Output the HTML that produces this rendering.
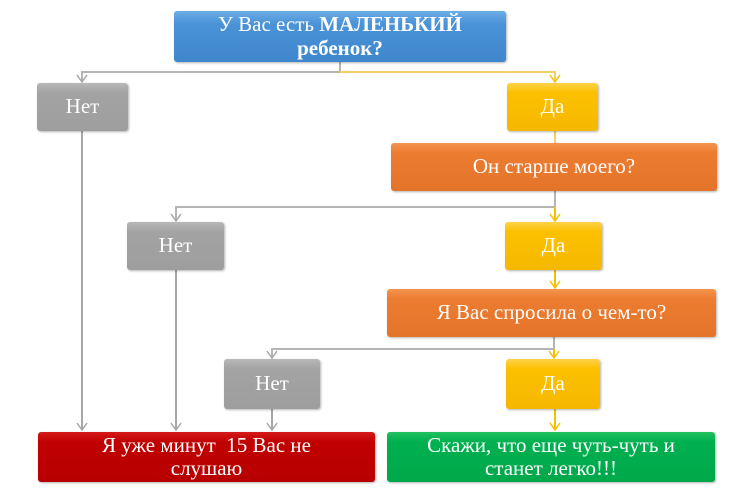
<!DOCTYPE html>
<html><head><meta charset="utf-8"><style>
body{margin:0;width:751px;height:494px;background:#fff;position:relative;overflow:hidden;font-family:"Liberation Serif","DejaVu Serif",serif}
.b{position:absolute;display:flex;align-items:center;justify-content:center;text-align:center;color:#fff;border-radius:3px;box-sizing:border-box;line-height:1.1;font-size:21px;box-shadow:1px 1px 2px rgba(0,0,0,.3)}
.g{background:linear-gradient(#b8b8b8,#a3a3a3 20%,#9e9e9e)}
.y{background:linear-gradient(#ffd24a,#fcc000 20%,#f5b800)}
.o{background:linear-gradient(#f59550,#ec7c30 20%,#e3742a)}
svg{position:absolute;left:0;top:0}
</style></head><body>
<svg width="751" height="494">
<g stroke-width="2" fill="none">
<path d="M340 62V72H82V82" stroke="#b5b5b5"/>
<path d="M340 72H555V82" stroke="#f5d060"/>
<path d="M555 131V143" stroke="#f5d060"/>
<path d="M555 191V207H176V221" stroke="#b5b5b5"/>
<path d="M555 207V221" stroke="#f5c000"/>
<path d="M555 270V288" stroke="#f5c000"/>
<path d="M554 337V349H272V358" stroke="#b5b5b5"/>
<path d="M554 349V358" stroke="#f5c000"/>
<path d="M82 131V430" stroke="#a6a6a6"/>
<path d="M176 270V430" stroke="#a6a6a6"/>
<path d="M272 409V430" stroke="#a6a6a6"/>
<path d="M555 409V430" stroke="#f5c000"/>
</g>
<g fill="none" stroke-width="1.5">
<path d="M77 75L82 82L87 75M171 214L176 221L181 214M267 351L272 358L277 351M77 423L82 430L87 423M171 423L176 430L181 423M267 423L272 430L277 423" stroke="#a6a6a6"/>
<path d="M550 75L555 82L560 75M550 214L555 221L560 214M550 281L555 288L560 281M549 351L554 358L559 351M550 423L555 430L560 423" stroke="#f5c000"/>
</g></svg>
<div class="b" style="left:174px;top:11px;width:332px;height:51px;background:linear-gradient(#6aaee6,#4b93d8 25%,#3f86cc)">
<div>У Вас есть <b>МАЛЕНЬКИЙ</b><br><b>ребенок?</b></div></div>
<div class="b g" style="left:37px;top:83px;width:91px;height:48px">Нет</div>
<div class="b y" style="left:507px;top:83px;width:91px;height:48px">Да</div>
<div class="b o" style="left:391px;top:143px;width:326px;height:48px">Он старше моего?</div>
<div class="b g" style="left:127px;top:222px;width:97px;height:48px">Нет</div>
<div class="b y" style="left:505px;top:222px;width:97px;height:48px">Да</div>
<div class="b o" style="left:387px;top:289px;width:329px;height:48px">Я Вас спросила о чем-то?</div>
<div class="b g" style="left:224px;top:359px;width:96px;height:50px">Нет</div>
<div class="b y" style="left:506px;top:359px;width:94px;height:50px">Да</div>
<div class="b" style="left:38px;top:432px;width:337px;height:50px;background:linear-gradient(#d41a1a,#c00000 20%,#b80000)">Я уже минут&nbsp; 15 Вас не<br>слушаю</div>
<div class="b" style="left:387px;top:432px;width:328px;height:50px;background:linear-gradient(#22c060,#00b050 20%,#00a84a)">Скажи, что еще чуть-чуть и<br>станет легко!!!</div>
</body></html>
